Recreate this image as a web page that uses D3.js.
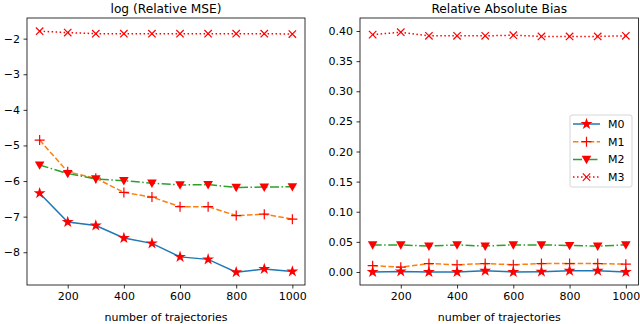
<!DOCTYPE html>
<html>
<head>
<meta charset="utf-8">
<script src="https://cdn.jsdelivr.net/npm/d3@7"></script>
<style>
  body { margin: 0; background: #fff; }
  text { font-family: "DejaVu Sans", sans-serif; fill: #000; }
</style>
</head>
<body>
<svg id="chart" width="640" height="324"></svg>
<script>
// data
var trajectories = [100, 200, 300, 400, 500, 600, 700, 800, 900, 1000];
var seriesNames = ["M0", "M1", "M2", "M3"];

var mseM0 = [-6.34, -7.15, -7.25, -7.6, -7.75, -8.13, -8.2, -8.56, -8.47, -8.54];
var mseM1 = [-4.85, -5.74, -5.92, -6.32, -6.45, -6.72, -6.72, -6.97, -6.93, -7.07];
var mseM2 = [-5.55, -5.79, -5.94, -5.99, -6.06, -6.11, -6.1, -6.18, -6.17, -6.16];
var mseM3 = [-1.79, -1.83, -1.86, -1.86, -1.86, -1.86, -1.86, -1.86, -1.86, -1.87];

var biasM0 = [0.0, 0.001, 0.0, 0.0, 0.002, 0.0, 0.0005, 0.002, 0.002, 0.0];
var biasM1 = [0.0105, 0.008, 0.014, 0.012, 0.014, 0.012, 0.014, 0.014, 0.014, 0.013];
var biasM2 = [0.045, 0.045, 0.043, 0.045, 0.043, 0.045, 0.045, 0.044, 0.043, 0.045];
var biasM3 = [0.394, 0.398, 0.392, 0.392, 0.392, 0.393, 0.391, 0.391, 0.391, 0.392];

var xTicks = [200, 400, 600, 800, 1000];
var mseTicks = [-2, -3, -4, -5, -6, -7, -8];
var biasTicks = [0.0, 0.05, 0.10, 0.15, 0.20, 0.25, 0.30, 0.35, 0.40];

var lineColors = ["#1f77b4", "#ff7f0e", "#2ca02c", "#ff0000"];
var dashes = [null, "5.5,2.4", "9,2.5,1.5,2.5", "1.5,2.5"];
var markers = ["star", "plus", "tri", "cross"];
var markColor = "#ff0000";

var svg = d3.select("#chart");

function drawMarker(g, kind, cx, cy) {
  if (kind == "star") {
    g.append("path")
      .attr("d", d3.symbol().type(d3.symbolStar).size(44)())
      .attr("transform", "translate(" + cx + "," + cy + ")")
      .style("fill", markColor);
  } else if (kind == "tri") {
    g.append("path")
      .attr("d", "M-4.8,-3.6L4.8,-3.6L0,4.8Z")
      .attr("transform", "translate(" + cx + "," + cy + ")")
      .style("fill", markColor);
  } else if (kind == "plus") {
    g.append("path")
      .attr("d", "M-5,0H5M0,-5V5")
      .attr("transform", "translate(" + cx + "," + cy + ")")
      .style("stroke", markColor).style("stroke-width", 1.2).style("fill", "none");
  } else {
    g.append("path")
      .attr("d", "M-3.7,-3.7L3.7,3.7M-3.7,3.7L3.7,-3.7")
      .attr("transform", "translate(" + cx + "," + cy + ")")
      .style("stroke", markColor).style("stroke-width", 1.2).style("fill", "none");
  }
}

function panel(opts) {
  var x = d3.scaleLinear().domain([55, 1045]).range([opts.left, opts.right]);
  var y = d3.scaleLinear().domain(opts.yDomain).range([opts.bottom, opts.top]);
  var g = svg.append("g");

  opts.series.forEach(function(vals, k) {
    var pts = trajectories.map(function(t, i) { return [x(t), y(vals[i])]; });
    g.append("path")
      .attr("d", d3.line()(pts))
      .style("fill", "none")
      .style("stroke", lineColors[k])
      .style("stroke-width", 1.5)
      .style("stroke-dasharray", dashes[k]);
    pts.forEach(function(p) { drawMarker(g, markers[k], p[0], p[1]); });
  });

  var xa = g.append("g")
    .attr("transform", "translate(0," + opts.bottom + ")")
    .call(d3.axisBottom(x).tickValues(xTicks).tickSize(3.5).tickPadding(3.5).tickFormat(d3.format("d")));
  var ya = g.append("g")
    .attr("transform", "translate(" + opts.left + ",0)")
    .call(d3.axisLeft(y).tickValues(opts.yTicks).tickSize(3.5).tickPadding(3.5).tickFormat(opts.yFormat));
  [xa, ya].forEach(function(a) {
    a.select(".domain").remove();
    a.selectAll("text").style("font-size", "11px").style("font-family", "DejaVu Sans");
    a.selectAll("line").style("stroke", "#000").style("stroke-width", 0.8);
  });

  g.append("rect")
    .attr("x", opts.left).attr("y", opts.top)
    .attr("width", opts.right - opts.left).attr("height", opts.bottom - opts.top)
    .style("fill", "none").style("stroke", "#000").style("stroke-width", 0.8);

  g.append("text")
    .attr("x", (opts.left + opts.right) / 2).attr("y", 12.5)
    .attr("text-anchor", "middle").style("font-size", "12.2px")
    .text(opts.title);
  g.append("text")
    .attr("x", (opts.left + opts.right) / 2).attr("y", 320.5)
    .attr("text-anchor", "middle").style("font-size", "11px")
    .text("number of trajectories");
  return g;
}

panel({
  left: 27, right: 305, top: 18, bottom: 285,
  yDomain: [-8.92, -1.42], yTicks: mseTicks,
  yFormat: function(d) { return d3.format("d")(d).replace("-", "\u2212"); },
  series: [mseM0, mseM1, mseM2, mseM3],
  title: "log (Relative MSE)"
});

var right = panel({
  left: 360, right: 638.5, top: 18, bottom: 285,
  yDomain: [-0.0216, 0.4216], yTicks: biasTicks,
  yFormat: d3.format(".2f"),
  series: [biasM0, biasM1, biasM2, biasM3],
  title: "Relative Absolute Bias"
});

// legend
var lg = right.append("g").attr("transform", "translate(570,115)");
lg.append("rect")
  .attr("width", 62).attr("height", 72).attr("rx", 2)
  .style("fill", "#fff").style("fill-opacity", 0.8)
  .style("stroke", "#ccc").style("stroke-width", 0.8);
seriesNames.forEach(function(name, k) {
  var yy = 9 + k * 17.7;
  lg.append("line")
    .attr("x1", 3).attr("x2", 30).attr("y1", yy).attr("y2", yy)
    .style("stroke", lineColors[k]).style("stroke-width", 1.5)
    .style("stroke-dasharray", dashes[k]);
  drawMarker(lg, markers[k], 16.5, yy);
  lg.append("text")
    .attr("x", 38).attr("y", yy + 4)
    .style("font-size", "11px")
    .text(name);
});
</script>
</body>
</html>
